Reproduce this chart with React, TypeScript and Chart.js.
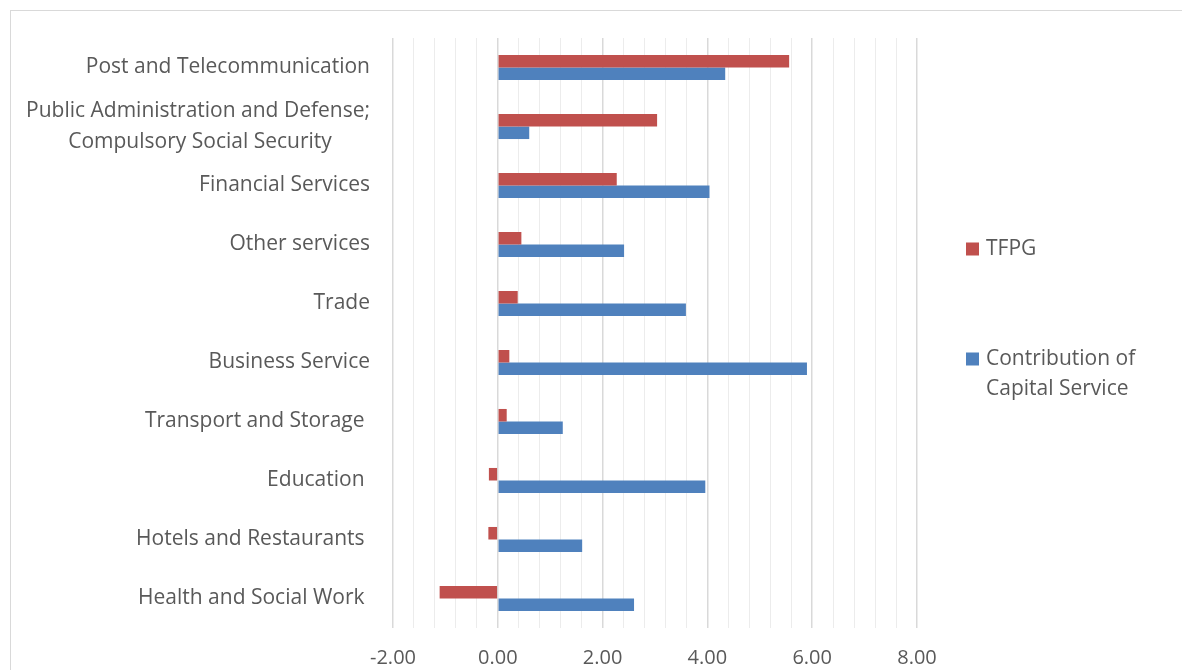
import React, { useEffect, useRef } from "react";
import { Chart, registerables } from "chart.js";

Chart.register(...registerables);

const categories: (string | string[])[] = [
  "Post and Telecommunication",
  ["Public Administration and Defense;", "Compulsory Social Security       "],
  "Financial Services",
  "Other services",
  "Trade",
  "Business Service",
  "Transport and Storage ",
  "Education ",
  "Hotels and Restaurants ",
  "Health and Social Work ",
];

const tfpgLabel = "TFPG";
const capitalLabel = "Contribution of Capital Service";

const tfpgValues = [5.56, 3.04, 2.27, 0.45, 0.38, 0.22, 0.17, -0.17, -0.18, -1.11];
const capitalValues = [4.34, 0.6, 4.04, 2.41, 3.59, 5.9, 1.24, 3.96, 1.61, 2.6];

const xMajorTicks = [-2, 0, 2, 4, 6, 8];
const xMin = -2;
const xMax = 8;
const xMinorStep = 0.4;

const RED = "#C0504D";
const BLUE = "#4F81BD";
const TEXT = "#595959";
const FONT = "'Open Sans', 'DejaVu Sans', sans-serif";

const isMajor = (v: number) =>
  xMajorTicks.some((m) => Math.abs(m - v) < 1e-6);

const legendPlugin = {
  id: "customLegend",
  afterDraw(chart: any) {
    const ctx = chart.ctx as CanvasRenderingContext2D;
    ctx.save();
    ctx.font = `21px ${FONT}`;
    ctx.textBaseline = "middle";
    ctx.textAlign = "left";
    const items = [
      { color: RED, lines: [tfpgLabel], y: 249 },
      { color: BLUE, lines: ["Contribution of", "Capital Service"], y: 359 },
    ];
    for (const it of items) {
      ctx.fillStyle = it.color;
      ctx.fillRect(966, it.y - 6.5, 13, 13);
      ctx.fillStyle = TEXT;
      it.lines.forEach((ln, i) => ctx.fillText(ln, 986, it.y + i * 30));
    }
    ctx.restore();
  },
};

export default function App() {
  const ref = useRef<HTMLCanvasElement | null>(null);

  useEffect(() => {
    if (!ref.current) return;
    const chart = new Chart(ref.current, {
      type: "bar",
      data: {
        labels: categories as any,
        datasets: [
          {
            label: tfpgLabel,
            data: tfpgValues,
            backgroundColor: RED,
            categoryPercentage: 0.425,
            barPercentage: 1,
          },
          {
            label: capitalLabel,
            data: capitalValues,
            backgroundColor: BLUE,
            categoryPercentage: 0.425,
            barPercentage: 1,
          },
        ],
      },
      options: {
        indexAxis: "y",
        animation: false,
        responsive: false,
        devicePixelRatio: 1,
        layout: { padding: { left: 0, right: 265, top: 36, bottom: 0 } },
        plugins: {
          legend: { display: false },
          tooltip: { enabled: false },
        },
        scales: {
          x: {
            type: "linear",
            min: xMin,
            max: xMax,
            afterFit: (s: any) => {
              s.height = 42;
            },
            border: { display: false },
            grid: {
              drawTicks: false,
              color: (c: any) => (isMajor(c.tick.value) ? "#d9d9d9" : "#ececec"),
              lineWidth: (c: any) => (isMajor(c.tick.value) ? 1.5 : 1),
            },
            ticks: {
              stepSize: xMinorStep,
              autoSkip: false,
              maxRotation: 0,
              padding: 18,
              color: TEXT,
              font: { family: FONT, size: 20 },
              callback: (v: any) => (isMajor(Number(v)) ? Number(v).toFixed(2) : ""),
            },
          },
          y: {
            type: "category",
            afterFit: (s: any) => {
              s.width = 393;
            },
            border: { display: false },
            grid: { display: false, drawTicks: false },
            ticks: {
              padding: 23,
              color: TEXT,
              font: { family: FONT, size: 21, lineHeight: 1.43 },
              autoSkip: false,
            },
          },
        },
      },
      plugins: [legendPlugin],
    });
    return () => chart.destroy();
  }, []);

  return (
    <div
      style={{
        position: "fixed",
        left: 0,
        top: 0,
        width: 1182,
        height: 670,
        overflow: "hidden",
        background: "#fff",
      }}
    >
      <div
        style={{
          position: "absolute",
          left: 10,
          top: 10,
          width: 1300,
          height: 800,
          borderTop: "1.5px solid #d9d9d9",
          borderLeft: "1.5px solid #d9d9d9",
        }}
      />
      <canvas
        ref={ref}
        width={1182}
        height={670}
        style={{ position: "absolute", left: 0, top: 0, width: 1182, height: 670 }}
      />
    </div>
  );
}
